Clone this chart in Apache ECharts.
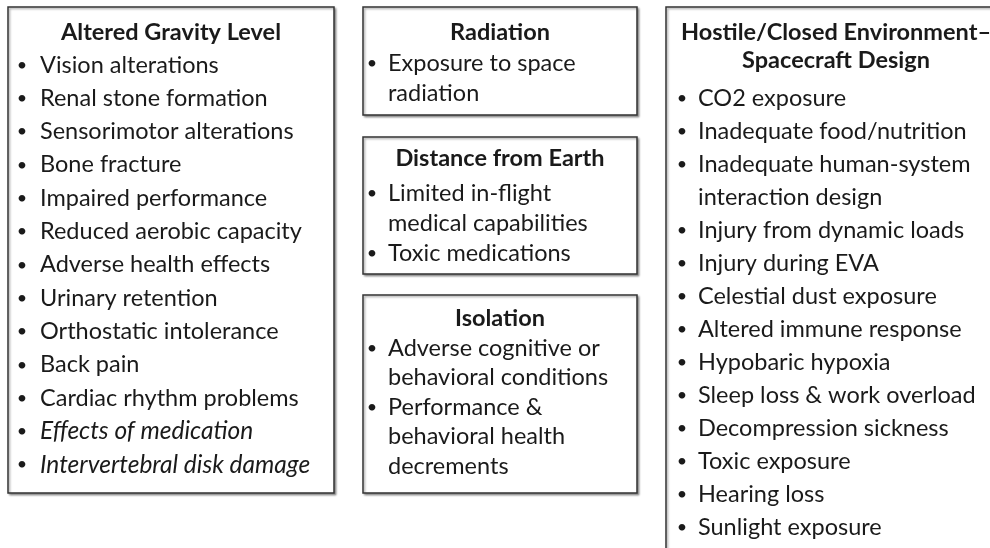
<!DOCTYPE html>
<html>
<head>
<meta charset="utf-8">
<script src="https://cdn.jsdelivr.net/npm/echarts@6/dist/echarts.min.js"></script>
<style>html,body{margin:0;padding:0;background:#fff;}#c{width:990px;height:548px;}</style>
</head>
<body>
<div id="c"></div>
<script>
// ---- content ----
const gravityTitle = ["Altered Gravity Level"];
const gravityItems = ["Vision alterations","Renal stone formation","Sensorimotor alterations","Bone fracture","Impaired performance","Reduced aerobic capacity","Adverse health effects","Urinary retention","Orthostatic intolerance","Back pain","Cardiac rhythm problems","Effects of medication","Intervertebral disk damage"];
const gravityItalic = ["Effects of medication","Intervertebral disk damage"];

const radiationTitle = ["Radiation"];
const radiationItems = [["Exposure to space","radiation"]];

const distanceTitle = ["Distance from Earth"];
const distanceItems = [["Limited in-flight","medical capabilities"],["Toxic medications"]];

const isolationTitle = ["Isolation"];
const isolationItems = [["Adverse cognitive or","behavioral conditions"],["Performance &","behavioral health","decrements"]];

const hostileTitle = ["Hostile/Closed Environment\u2013","Spacecraft Design"];
const hostileItems = [["CO2 exposure"],["Inadequate food/nutrition"],["Inadequate human-system","interaction design"],["Injury from dynamic loads"],["Injury during EVA"],["Celestial dust exposure"],["Altered immune response"],["Hypobaric hypoxia"],["Sleep loss & work overload"],["Decompression sickness"],["Toxic exposure"],["Hearing loss"],["Sunlight exposure"]];

// ---- layout ----
const FONT = "Lato, 'Open Sans', sans-serif";
const TEXT_COLOR = "#1a1a1a";
const FS = 23.5;
const FS_ITALIC = 24.5;

function box(x, y, w, h, title, items, opts) {
  const els = [];
  els.push({
    type: 'rect', shape: {x: x, y: y, width: w, height: h},
    style: {fill: '#fff', stroke: '#333', lineWidth: 1.5,
      shadowBlur: 2, shadowOffsetX: 1.5, shadowOffsetY: 1.5, shadowColor: 'rgba(0,0,0,0.35)'}
  });
  let cy = y + opts.titleTop;
  title.forEach(t => {
    els.push({type: 'text', style: {x: x + w / 2, y: cy, text: t, fill: TEXT_COLOR,
      font: 'bold ' + FS + 'px ' + FONT, textAlign: 'center', textVerticalAlign: 'middle'}});
    cy += opts.titleLh || opts.lh;
  });
  cy = y + opts.firstItem;
  items.forEach(it => {
    const lines = Array.isArray(it) ? it : [it];
    const italic = opts.italic && opts.italic.indexOf(lines[0]) >= 0;
    els.push({type: 'text', style: {x: x + opts.bulletX, y: cy, text: '\u2022', fill: TEXT_COLOR,
      font: '18px ' + FONT, textAlign: 'center', textVerticalAlign: 'middle'}});
    lines.forEach(l => {
      els.push({type: 'text', style: {x: x + opts.textX, y: cy, text: l, fill: TEXT_COLOR,
        font: (italic ? 'italic ' + FS_ITALIC : FS) + 'px ' + FONT, textAlign: 'left', textVerticalAlign: 'middle'}});
      cy += opts.lh;
    });
  });
  return els;
}

const graphic = [].concat(
  box(8, 7, 326, 486, gravityTitle, gravityItems, {titleTop: 25, firstItem: 58, lh: 33.3, bulletX: 14, textX: 32, italic: gravityItalic}),
  box(363, 7, 274, 108, radiationTitle, radiationItems, {titleTop: 25, firstItem: 56, lh: 30, bulletX: 9, textX: 25}),
  box(363, 137, 274, 137, distanceTitle, distanceItems, {titleTop: 21, firstItem: 56, lh: 30, bulletX: 9, textX: 25}),
  box(363, 295, 274, 198, isolationTitle, isolationItems, {titleTop: 23, firstItem: 53, lh: 29.5, bulletX: 9, textX: 25}),
  box(666, 7, 340, 560, hostileTitle, hostileItems, {titleTop: 25, titleLh: 28, firstItem: 91, lh: 33, bulletX: 16, textX: 32})
);

const chart = echarts.init(document.getElementById('c'), null, {renderer: 'canvas'});
chart.setOption({animation: false, backgroundColor: '#fff', graphic: graphic});
</script>
</body>
</html>
